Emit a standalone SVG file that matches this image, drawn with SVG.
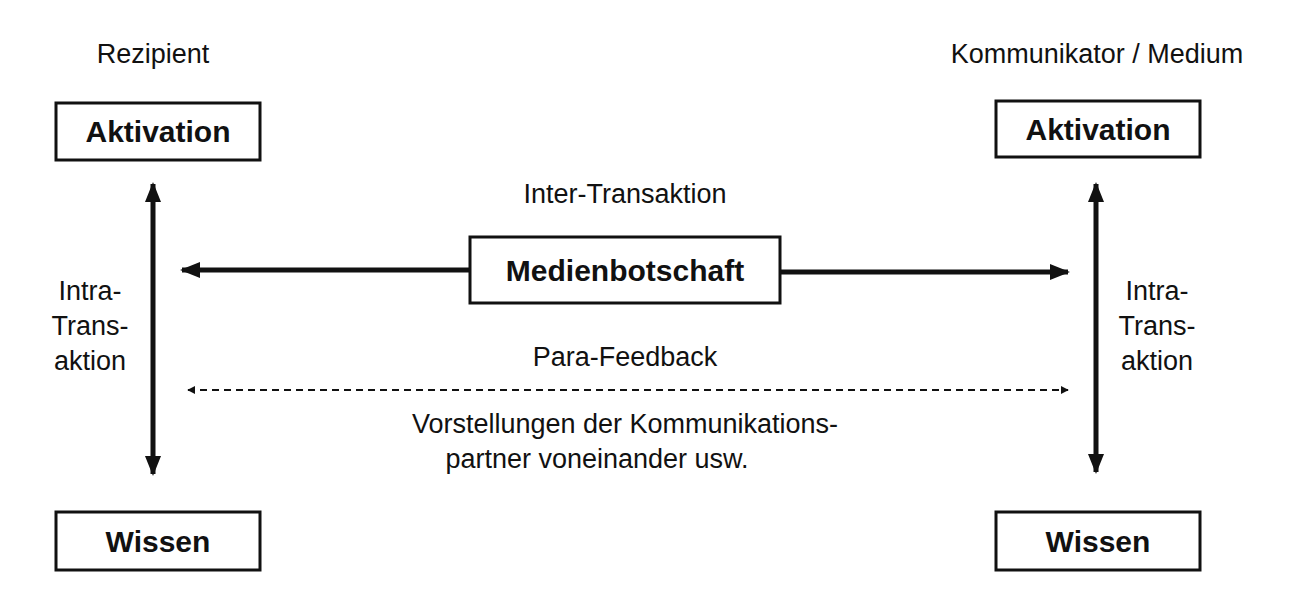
<svg xmlns="http://www.w3.org/2000/svg" width="1301" height="616" viewBox="0 0 1301 616">
<defs>
<style>
text{font-family:"Liberation Sans",Arial,sans-serif;fill:#111;text-anchor:middle}
.lbl{font-size:27px}
.box{fill:#fff;stroke:#111;stroke-width:3}
.bt{font-size:30px;font-weight:bold}
.thick{stroke:#111;stroke-width:5;fill:none}
.dash{stroke:#111;stroke-width:2;stroke-dasharray:7,5;fill:none}
</style>
<marker id="ah" viewBox="0 0 10 10" refX="9" refY="5" markerWidth="4" markerHeight="4" orient="auto-start-reverse"><path d="M0,1 L10,5 L0,9 Z" fill="#111"/></marker>
<marker id="ahs" viewBox="0 0 10 10" refX="9" refY="5" markerWidth="8" markerHeight="8" markerUnits="userSpaceOnUse" orient="auto-start-reverse"><path d="M0,0 L10,5 L0,10 Z" fill="#111"/></marker>
</defs>
<rect width="1301" height="616" fill="#fff"/>
<text class="lbl" x="153" y="63">Rezipient</text>
<text class="lbl" x="1097" y="63">Kommunikator / Medium</text>
<text class="lbl" x="625" y="203">Inter-Transaktion</text>
<text class="lbl" x="625" y="366">Para-Feedback</text>
<text class="lbl" x="625" y="433">Vorstellungen der Kommunikations-</text>
<text class="lbl" x="597" y="468">partner voneinander usw.</text>
<text class="lbl" x="90" y="300">Intra-</text>
<text class="lbl" x="90" y="335">Trans-</text>
<text class="lbl" x="90" y="370">aktion</text>
<text class="lbl" x="1157" y="300">Intra-</text>
<text class="lbl" x="1157" y="335">Trans-</text>
<text class="lbl" x="1157" y="370">aktion</text>
<g id="connectors">
<line class="thick" x1="153" y1="184" x2="153" y2="474" marker-start="url(#ah)" marker-end="url(#ah)"/>
<line class="thick" x1="1096" y1="184" x2="1096" y2="472" marker-start="url(#ah)" marker-end="url(#ah)"/>
<line class="thick" x1="470" y1="270" x2="182" y2="270" marker-end="url(#ah)"/>
<line class="thick" x1="780" y1="272" x2="1068" y2="272" marker-end="url(#ah)"/>
<line class="dash" x1="188" y1="390" x2="1068" y2="390" marker-start="url(#ahs)" marker-end="url(#ahs)"/>
</g>
<g id="akt-l"><rect class="box" x="56" y="103" width="204" height="57"/><text class="bt" x="158" y="142">Aktivation</text></g>
<g id="akt-r"><rect class="box" x="996" y="101" width="204" height="56"/><text class="bt" x="1098" y="140">Aktivation</text></g>
<g id="wis-l"><rect class="box" x="56" y="512" width="204" height="58"/><text class="bt" x="158" y="552">Wissen</text></g>
<g id="wis-r"><rect class="box" x="996" y="512" width="204" height="58"/><text class="bt" x="1098" y="552">Wissen</text></g>
<g id="med"><rect class="box" x="470" y="237" width="310" height="66"/><text class="bt" x="625" y="281">Medienbotschaft</text></g>
</svg>
